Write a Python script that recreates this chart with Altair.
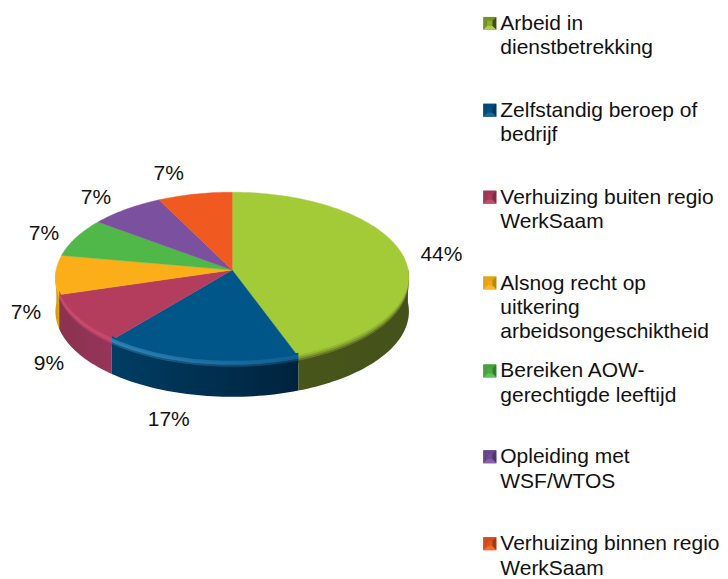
import math
import altair as alt
import pandas as pd

# ---- data ----
categories = ["Arbeid in\ndienstbetrekking", "Zelfstandig beroep of\nbedrijf",
              "Verhuizing buiten regio\nWerkSaam",
              "Alsnog recht op\nuitkering\narbeidsongeschiktheid",
              "Bereiken AOW-\ngerechtigde leeftijd", "Opleiding met\nWSF/WTOS",
              "Verhuizing binnen regio\nWerkSaam"]
values = [44.4, 16.6, 9.4, 7.4, 7.4, 7.4, 7.4]
top_colors = ["#a3cb38", "#005688", "#b43c5c", "#fbae17", "#50b848", "#7b509e", "#f0591f"]
wall_left = ["#48561a", "#003d64", "#8a324e", "#c89810", "#3a8a34", "#5a3a78", "#b04018"]
wall_right = ["#44511a", "#00233d", "#96355a", "#e0a812", "#3a8a34", "#5a3a78", "#b04018"]
rim_left = ["#8fae34", "#3f93c4", "#d8507a", "#ffc41f", "#50b848", "#7b509e", "#f0591f"]
rim_right = ["#8ca832", "#14689c", "#d04c74", "#ffc020", "#50b848", "#7b509e", "#f0591f"]

# ---- layout (image pixels) ----
W, H, M = 728, 579, 8
CX, APEX, RX0, RY0, P, DEPTH = 232.5, 270.0, 176.3, 84.8, 0.0877, 34.0
BANDS = [(-4, -2), (-2, 0), (0, 2), (2, 4), (4, 6)]
label_x = [442, 169, 49, 26, 44, 96, 169]
label_y = [254.5, 420, 364, 313, 234, 198, 174]
legend_y = [23.5, 110.5, 197.5, 283.5, 371.5, 457.5, 544.5]
LINE_H = 24.5
SW_X, TXT_X = 490.5, 501

total = sum(values)
pct = [f"{round(v / total * 100)}%" for v in values]
bounds = [0.0]
for v in values:
    bounds.append(bounds[-1] + v / total * 2 * math.pi)


def pt(t, dy=0.0):
    s = 1 / (1 + P * math.cos(t))
    return CX + RX0 * math.sin(t) * s, APEX - RY0 * math.cos(t) * s + dy


def mix(c1, c2, f):
    a = [int(c1[i:i + 2], 16) for i in (1, 3, 5)]
    b = [int(c2[i:i + 2], 16) for i in (1, 3, 5)]
    return "#" + "".join(f"{round(p + (q - p) * f):02x}" for p, q in zip(a, b))


def grad(c1, c2):
    return alt.LinearGradient(gradient="linear", x1=0, x2=1, y1=0, y2=0,
                              stops=[alt.GradientStop(offset=0, color=c1),
                                     alt.GradientStop(offset=1, color=c2)])


x_s = alt.Scale(domain=[M, W - M], range=[0, W - 2 * M], nice=False, zero=False)
y_s = alt.Scale(domain=[M, H - M], range=[0, H - 2 * M], nice=False, zero=False)
X = alt.X("x:Q", scale=x_s, axis=None)
Y = alt.Y("y:Q", scale=y_s, axis=None)


def poly(points, fill, stroke=None, sw=0.0):
    d = pd.DataFrame(points, columns=["x", "y"]).reset_index(names="n")
    kw = dict(interpolate="linear-closed", fill=fill, strokeWidth=sw)
    kw["stroke"] = stroke if stroke else "transparent"
    return alt.Chart(d).mark_line(**kw).encode(x=X, y=Y, order="n:Q")


walls, tops, rims = [], [], []
STEP = math.radians(1.5)
for i in range(len(values)):
    a0, a1 = bounds[i], bounds[i + 1]
    steps = max(2, int((a1 - a0) / STEP))
    ts = [a0 + (a1 - a0) * s / steps for s in range(steps + 1)]
    tops.append(poly([(CX, APEX)] + [pt(t) for t in ts], top_colors[i], top_colors[i], 0.4))
    front = [t for t in ts if math.cos(t) <= 0.02]
    if len(front) < 2:
        continue
    walls.append(poly([pt(t) for t in front] + [pt(t, DEPTH) for t in reversed(front)],
                      grad(wall_left[i], wall_right[i])))
    # bevel: soft bands from the top face through a highlight into the wall
    for b, (d0, d1) in enumerate(BANDS):
        f = b / (len(BANDS) - 1)
        def shade(rim, wall):
            if f < 0.4:
                return mix(top_colors[i], rim, f / 0.4)
            return mix(rim, wall, (f - 0.4) / 0.6)
        taper = [min(1.0, max(0.0, -math.cos(t)) / 0.25) for t in front]
        upper = [pt(t, d0 * k) for t, k in zip(front, taper)]
        lower = [pt(t, (d1 + 0.5) * k) for t, k in zip(front, taper)]
        rims.append(poly(upper + lower[::-1],
                         grad(shade(rim_left[i], wall_left[i]), shade(rim_right[i], wall_right[i]))))

labels_df = pd.DataFrame({"x": label_x, "y": label_y, "t": pct})
labels = alt.Chart(labels_df).mark_text(
    font="Liberation Sans", fontSize=21, color="#111111", align="center", baseline="middle"
).encode(x=X, y=Y, text="t:N")

# legend
leg_rows, sq_rows = [], []
for i, cat in enumerate(categories):
    for j, line in enumerate(cat.split("\n")):
        leg_rows.append(dict(x=TXT_X, y=legend_y[i] + j * LINE_H, t=line))
    sq_rows.append(dict(x=SW_X, y=legend_y[i] - 0.5, top=mix(top_colors[i], wall_left[i], 0.25),
                        wall=mix(wall_left[i], "#000000", 0.1), rim=mix(top_colors[i], "#ffffff", 0.1),
                        mid=mix(top_colors[i], wall_left[i], 0.5)))
legend_text = alt.Chart(pd.DataFrame(leg_rows)).mark_text(
    font="Liberation Sans", fontSize=21, color="#111111", align="left", baseline="middle"
).encode(x=X, y=Y, text="t:N")
sq = pd.DataFrame(sq_rows)
SIZE = 169


def swatch(col, shape):
    return alt.Chart(sq).mark_point(filled=True, shape=shape, size=SIZE, opacity=1, strokeWidth=0).encode(
        x=X, y=Y, fill=alt.Fill(f"{col}:N", scale=None, legend=None))


swatches = (
    swatch("top", "M-1,-1L1,-1L1,1L-1,1Z")
    + swatch("mid", "M-1,-1L-0.4,-0.4L-0.4,0.4L-1,1Z")
    + swatch("mid", "M-1,-1L1,-1L0.4,-0.4L-0.4,-0.4Z")
    + swatch("wall", "M1,-1L1,1L0.4,0.4L0.4,-0.4Z")
    + swatch("rim", "M-1,1L1,1L0.4,0.4L-0.4,0.4Z")
)

chart = alt.layer(*walls, *tops, *rims, labels, swatches, legend_text).properties(
    width=W - 2 * M, height=H - 2 * M, padding=0, background="white"
).configure_view(stroke=None)
chart.save("out.html", embed_options={"renderer": "svg", "actions": False})
